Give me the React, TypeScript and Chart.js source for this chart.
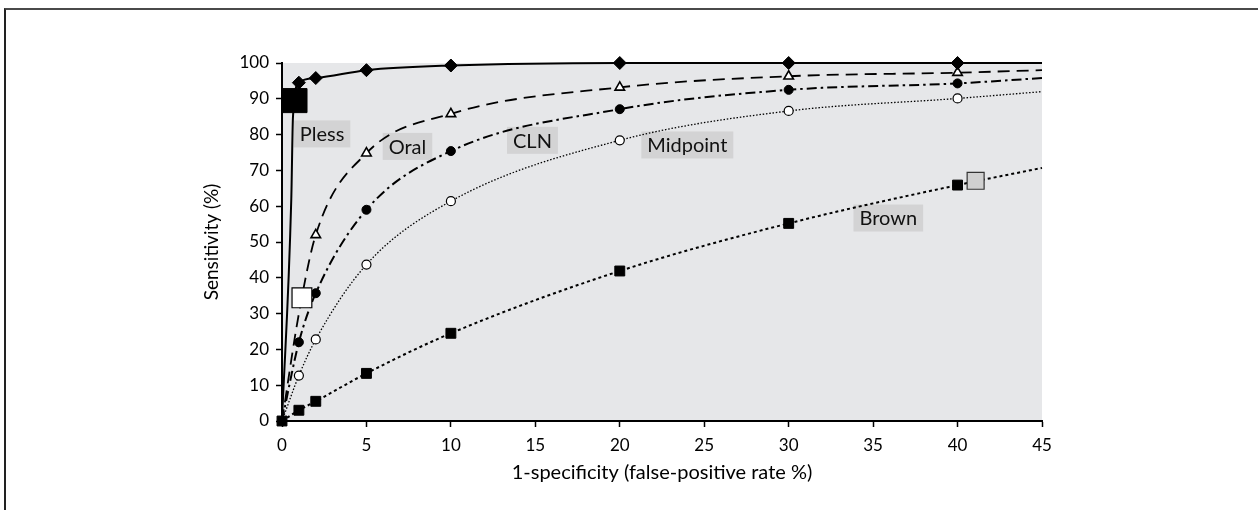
import { useEffect, useRef } from "react";
import { Chart, registerables } from "chart.js";
Chart.register(...registerables);

// Axis ticks
const xTickValues = [0, 5, 10, 15, 20, 25, 30, 35, 40, 45];
const yTickValues = [0, 10, 20, 30, 40, 50, 60, 70, 80, 90, 100];

// Pless (diamonds, solid)
const plessX = [1, 2, 5, 10, 20, 30, 40];
const plessY = [94.5, 95.8, 98, 99.3, 100, 100, 100];
const plessCurveX = [0, 0.55, 0.65, 45];
const plessCurveY = [0, 62, 85, 100];

// Oral (open triangles, dashed)
const oralX = [2, 5, 10, 20, 30, 40];
const oralY = [52, 74.8, 85.8, 93.2, 96.3, 97.3];
const oralCurveX = [0, 1, 45];
const oralCurveY = [0, 30, 98];

// CLN (filled circles, dash-dot)
const clnX = [1, 2, 5, 10, 20, 30, 40];
const clnY = [22, 35.7, 59, 75.4, 87.1, 92.5, 94.3];
const clnCurveX = [0, 45];
const clnCurveY = [0, 95.8];

// Midpoint (open circles, fine dotted)
const midX = [1, 2, 5, 10, 20, 30, 40];
const midY = [12.7, 22.8, 43.7, 61.4, 78.4, 86.6, 90.1];
const midCurveX = [0, 45];
const midCurveY = [0, 92];

// Brown (filled squares, dotted)
const brownX = [0, 1, 2, 5, 10, 20, 30, 40];
const brownY = [0, 3, 5.5, 13.3, 24.5, 41.9, 55.2, 65.9];
const brownCurveX = [45];
const brownCurveY = [70.7];

// Summary points (large squares)
const plessSummary = [0.77, 89.5];
const oralSummary = [1.18, 34.4];
const brownSummary = [41.07, 67.1];

// Curve labels
const labelNames = ["Pless", "Oral", "CLN", "Midpoint", "Brown"];
const labelX = [2.37, 7.43, 14.83, 24.0, 35.9];
const labelY = [80.2, 76.7, 78.4, 77.1, 56.7];

const FONT = "Lato, 'Open Sans', 'DejaVu Sans', sans-serif";

function pts(xs: number[], ys: number[]) {
  return xs.map((x, i) => ({ x, y: ys[i] }));
}
function curve(xs: number[], ys: number[], cx: number[], cy: number[]) {
  return [...pts(xs, ys), ...pts(cx, cy)].sort((a, b) => a.x - b.x);
}

export default function App() {
  const ref = useRef<HTMLCanvasElement | null>(null);
  useEffect(() => {
    if (!ref.current) return;
    const bgPlugin = {
      id: "plotBg",
      beforeDraw(chart: any) {
        const { ctx, chartArea } = chart;
        ctx.save();
        ctx.fillStyle = "#e6e7e9";
        ctx.fillRect(chartArea.left, chartArea.top, chartArea.right - chartArea.left, chartArea.bottom - chartArea.top);
        ctx.restore();
      },
      beforeDatasetsDraw(chart: any) {
        const { ctx, scales } = chart;
        ctx.save();
        ctx.font = `20px ${FONT}`;
        ctx.textAlign = "center";
        ctx.textBaseline = "middle";
        labelNames.forEach((name, i) => {
          const px = scales.x.getPixelForValue(labelX[i]);
          const py = scales.y.getPixelForValue(labelY[i]);
          const w = ctx.measureText(name).width + 12;
          const h = 27;
          ctx.fillStyle = "#d3d3d4";
          ctx.fillRect(px - w / 2, py - h / 2, w, h);
          ctx.fillStyle = "#111";
          ctx.fillText(name, px, py + 1);
        });
        ctx.restore();
      },
    };

    const lineBase = {
      showLine: true,
      pointRadius: 0,
      pointHoverRadius: 0,
      cubicInterpolationMode: "monotone" as const,
      borderColor: "#000",
      clip: false as any,
    };
    const markBase = {
      showLine: false,
      borderColor: "#000",
      clip: false as any,
    };

    const chart = new Chart(ref.current, {
      type: "scatter",
      data: {
        datasets: [
          { ...markBase, label: "Pless summary", data: pts([plessSummary[0]], [plessSummary[1]]), pointStyle: "rect", pointRadius: 17, backgroundColor: "#000", borderWidth: 1 },
          { ...markBase, label: "Oral summary", data: pts([oralSummary[0]], [oralSummary[1]]), pointStyle: "rect", pointRadius: 14, backgroundColor: "#fff", borderWidth: 1.2 },
          { ...markBase, label: "Brown summary", data: pts([brownSummary[0]], [brownSummary[1]]), pointStyle: "rect", pointRadius: 12, backgroundColor: "#d0d0d0", borderColor: "#333", borderWidth: 1.2 },
          { ...markBase, label: "Pless", data: pts(plessX, plessY), pointStyle: "rectRot", pointRadius: 6.5, backgroundColor: "#000", borderWidth: 1 },
          { ...markBase, label: "Oral", data: pts(oralX, oralY), pointStyle: "triangle", pointRadius: 5.5, backgroundColor: "#fff", borderWidth: 1.6 },
          { ...markBase, label: "CLN", data: pts(clnX, clnY), pointStyle: "circle", pointRadius: 4.5, backgroundColor: "#000", borderWidth: 1 },
          { ...markBase, label: "Midpoint", data: pts(midX, midY), pointStyle: "circle", pointRadius: 4.5, backgroundColor: "#fff", borderWidth: 1.2 },
          { ...markBase, label: "Brown", data: pts(brownX, brownY), pointStyle: "rect", pointRadius: 7, backgroundColor: "#000", borderWidth: 1 },
          { ...lineBase, label: "Pless curve", data: curve(plessX, plessY, plessCurveX, plessCurveY), borderWidth: 2 },
          { ...lineBase, label: "Oral curve", data: curve(oralX, oralY, oralCurveX, oralCurveY), borderWidth: 1.8, borderDash: [12, 7] },
          { ...lineBase, label: "CLN curve", data: curve(clnX, clnY, clnCurveX, clnCurveY), borderWidth: 2, borderDash: [10, 4, 2.5, 4] },
          { ...lineBase, label: "Midpoint curve", data: curve(midX, midY, midCurveX, midCurveY), borderWidth: 1.3, borderDash: [1.5, 1.8] },
          { ...lineBase, label: "Brown curve", data: curve(brownX, brownY, brownCurveX, brownCurveY), borderWidth: 2, borderDash: [3, 3] },
        ],
      },
      options: {
        animation: false,
        responsive: false,
        maintainAspectRatio: false,
        layout: { padding: { left: 0, right: 216, top: 63, bottom: 0 } },
        plugins: { legend: { display: false }, tooltip: { enabled: false } },
        scales: {
          x: {
            type: "linear",
            min: 0,
            max: 45,
            afterFit(scale: any) { scale.height = 89; },
            afterBuildTicks(scale: any) { scale.ticks = xTickValues.map((v) => ({ value: v })); },
            ticks: { color: "#000", font: { family: FONT, size: 17 }, padding: 8, maxRotation: 0, autoSkip: false },
            grid: { display: true, drawOnChartArea: false, drawTicks: true, tickLength: 6, tickColor: "#000", tickWidth: 1.5 },
            border: { display: true, color: "#000", width: 2 },
            title: { display: true, text: "1-specificity (false-positive rate %)", color: "#000", font: { family: FONT, size: 20 }, padding: { top: 0, bottom: 25 } },
          },
          y: {
            type: "linear",
            min: 0,
            max: 100,
            afterFit(scale: any) { scale.width = 282; },
            afterBuildTicks(scale: any) { scale.ticks = yTickValues.map((v) => ({ value: v })); },
            ticks: { color: "#000", font: { family: FONT, size: 17 }, padding: 7, autoSkip: false },
            grid: { display: true, drawOnChartArea: false, drawTicks: true, tickLength: 6, tickColor: "#000", tickWidth: 1.5 },
            border: { display: true, color: "#000", width: 2 },
            title: { display: true, text: "Sensitivity (%)", color: "#000", font: { family: FONT, size: 19 }, padding: { top: 200, bottom: 0 } },
          },
        },
      },
      plugins: [bgPlugin],
    });
    return () => chart.destroy();
  }, []);

  return (
    <div style={{ position: "fixed", left: 0, top: 0, width: 1258, height: 510, background: "#fff", overflow: "hidden" }}>
      <div style={{ position: "absolute", left: 4, top: 8, width: 1270, height: 520, borderTop: "2px solid #4a4a4a", borderLeft: "2px solid #222", boxSizing: "border-box" }} />
      <canvas ref={ref} width={1258} height={510} style={{ position: "absolute", left: 0, top: 0, width: 1258, height: 510 }} />
    </div>
  );
}
